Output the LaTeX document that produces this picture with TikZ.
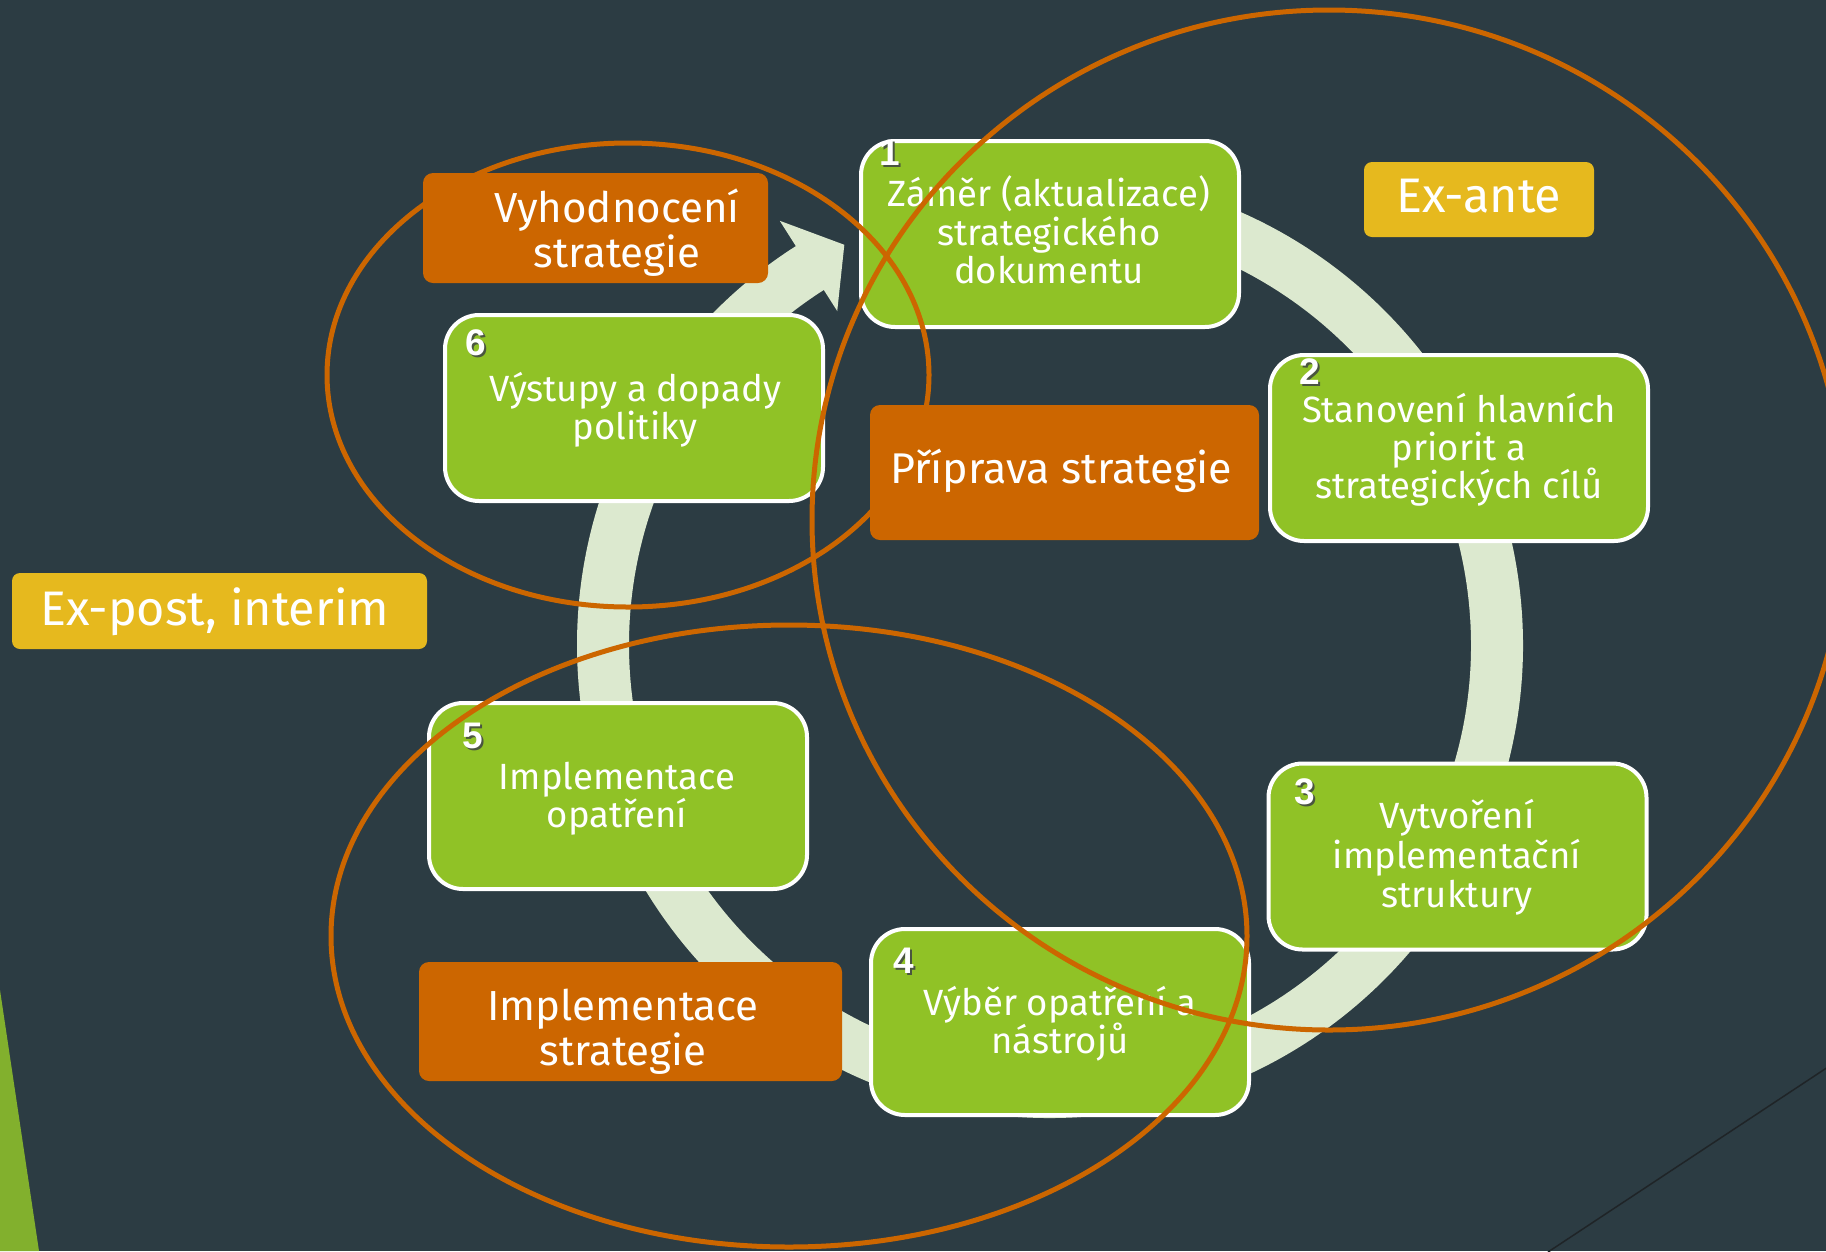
\documentclass[tikz,border=0pt]{standalone}
\usepackage{fontspec}
\setmainfont{Fira Sans}
\newfontfamily\numfont{Liberation Sans}
\usetikzlibrary{calc}
\definecolor{bgc}{HTML}{2C3C43}
\definecolor{boxgreen}{HTML}{90C226}
\definecolor{leafgreen}{HTML}{82B02D}
\definecolor{ringc}{HTML}{DCE9CF}
\definecolor{orangec}{HTML}{CC6600}
\definecolor{yellowc}{HTML}{E6B91E}
\definecolor{darkline}{HTML}{1F2427}
\definecolor{shadowc}{HTML}{4A5540}
\begin{document}
\begin{tikzpicture}[x=1pt,y=1pt,
  greenbox/.style={draw=white, line width=4pt, fill=boxgreen, rounded corners=34pt,
    inner sep=0pt, minimum width=378pt, minimum height=186pt},
  orangebox/.style={fill=orangec, rounded corners=10pt, inner sep=0pt},
  yellowbox/.style={fill=yellowc, rounded corners=8pt, inner sep=0pt},
  ell/.style={draw=orangec, line width=5pt},
  ring/.style={draw=ringc, line width=52pt},
  txt/.style={text=white, inner sep=0pt, anchor=base, font=\fontsize{36.5}{42}\selectfont},
  bigtxt/.style={text=white, inner sep=0pt, anchor=base, font=\fontsize{42}{48}\selectfont},
  hugetxt/.style={text=white, inner sep=0pt, anchor=base, font=\fontsize{48.5}{54}\selectfont},
  numtxt/.style={text=white, inner sep=0pt, font=\numfont\bfseries\fontsize{37}{40}\selectfont},
  numshadow/.style={text=shadowc, inner sep=0pt, font=\numfont\bfseries\fontsize{37}{40}\selectfont, xshift=1.5pt, yshift=-1.5pt}
]
\useasboundingbox (0,0) rectangle (1826,-1251);
\clip (0,0) rectangle (1826,-1251);
\fill[bgc] (0,0) rectangle (1826,-1251);
% decorations of the slide
\fill[leafgreen] (0,-990) -- (39,-1251) -- (0,-1251) -- cycle;
\draw[darkline, line width=1.5pt] (1548,-1252) -- (1828,-1067);

% cycle ring with arrow
\coordinate (rc) at (1050,-645);
\draw[ring] ($(rc)+(95:447pt)$) arc[start angle=95, end angle=-237.8, radius=447pt];
\fill[ringc] ($(rc)+(122.5:396pt)$) -- ($(rc)+(122.5:503pt)$) -- ($(rc)+(117.2:450pt)$) -- cycle;

% green step boxes
\node[greenbox] (b1) at (1050,-234) {};
\node[greenbox] (b2) at (1459,-448) {};
\node[greenbox] (b3) at (1457.5,-856.5) {};
\node[greenbox] (b4) at (1060,-1022) {};
\node[greenbox] (b5) at (618,-796) {};
\node[greenbox] (b6) at (634,-408) {};

% numbers
\node[numshadow] (n1s) at (890,-153) {1};
\node[numtxt] (n1) at (890,-153) {1};
\node[numshadow] (n2s) at (1310,-372) {2};
\node[numtxt] (n2) at (1310,-372) {2};
\node[numshadow] (n3s) at (1305,-792) {3};
\node[numtxt] (n3) at (1305,-792) {3};
\node[numshadow] (n4s) at (904,-961) {4};
\node[numtxt] (n4) at (904,-961) {4};
\node[numshadow] (n5s) at (473,-736) {5};
\node[numtxt] (n5) at (473,-736) {5};
\node[numshadow] (n6s) at (476,-343) {6};
\node[numtxt] (n6) at (476,-343) {6};

% box texts
\node[txt] (t1a) at (1049,-206) {Záměr (aktualizace)};
\node[txt] (t1b) at (1049,-245) {strategického};
\node[txt] (t1c) at (1049,-283) {dokumentu};
\node[txt] (t2a) at (1459,-422) {Stanovení hlavních};
\node[txt] (t2b) at (1459,-460) {priorit a};
\node[txt] (t2c) at (1459,-498) {strategických cílů};
\node[txt] (t3a) at (1457,-828) {Vytvoření};
\node[txt] (t3b) at (1457,-868) {implementační};
\node[txt] (t3c) at (1457,-907) {struktury};
\node[txt] (t4a) at (1060,-1015) {Výběr opatření a};
\node[txt] (t4b) at (1060,-1053) {nástrojů};
\node[txt] (t5a) at (617,-789) {Implementace};
\node[txt] (t5b) at (617,-827) {opatření};
\node[txt] (t6a) at (635,-401) {Výstupy a dopady};
\node[txt] (t6b) at (635,-439) {politiky};

% orange ellipses
\draw[ell] (628,-375) ellipse [x radius=301pt, y radius=232pt];
\draw[ell] (789,-936) ellipse [x radius=458pt, y radius=311pt];
\draw[ell] (1329,-520) ellipse [x radius=517pt, y radius=510pt];

% orange phase boxes
\node[orangebox, minimum width=345pt, minimum height=110pt] (o1) at (595.5,-228) {};
\node[bigtxt] (o1a) at (617,-222) {Vyhodnocení};
\node[bigtxt] (o1b) at (617,-267) {strategie};
\node[orangebox, minimum width=389pt, minimum height=135pt] (o2) at (1064.5,-472.5) {};
\node[txt, font=\fontsize{43}{48}\selectfont] (o2a) at (1061,-483) {Příprava strategie};
\node[orangebox, minimum width=423pt, minimum height=119pt] (o3) at (630.5,-1021.5) {};
\node[bigtxt] (o3a) at (623,-1020) {Implementace};
\node[bigtxt] (o3b) at (623,-1065) {strategie};

% yellow evaluation labels
\node[yellowbox, minimum width=230pt, minimum height=75pt] (y1) at (1479,-199.5) {};
\node[hugetxt] (y1a) at (1479,-212) {Ex-ante};
\node[yellowbox, minimum width=415pt, minimum height=76pt] (y2) at (219.5,-611) {};
\node[hugetxt] (y2a) at (215,-625) {Ex-post, interim};
\end{tikzpicture}
\end{document}
